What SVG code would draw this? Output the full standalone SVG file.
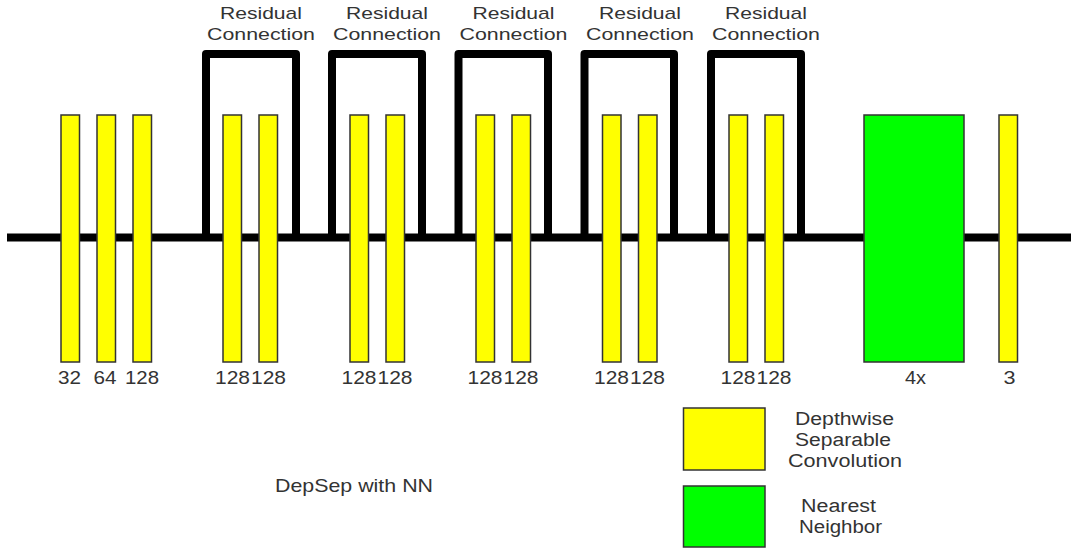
<svg xmlns="http://www.w3.org/2000/svg" width="1073" height="549" viewBox="0 0 1073 549">
<style>
.bar{fill:#ffff00;stroke:#333;stroke-width:1.5}
.nn{fill:#00ff00;stroke:#333;stroke-width:1.5}
.wire{fill:none;stroke:#000;stroke-width:8;stroke-linejoin:round}
text{font-family:"Liberation Sans",Arial,sans-serif;fill:#333;text-anchor:middle}
.lbl{font-size:19px}
.res{font-size:17px}
.leg{font-size:18px}
</style>
<rect width="1073" height="549" fill="#fff"/>
<g id="connectors">
<line class="wire" x1="7" y1="237.5" x2="1071" y2="237.5"/>
<path class="wire" d="M206 237.5V54H296V237.5"/>
<path class="wire" d="M332 237.5V54H422V237.5"/>
<path class="wire" d="M458.5 237.5V54H548V237.5"/>
<path class="wire" d="M584.5 237.5V54H674V237.5"/>
<path class="wire" d="M711 237.5V54H801V237.5"/>
</g>
<g id="res-labels">
<text class="res" x="261" y="19" textLength="82" lengthAdjust="spacingAndGlyphs">Residual</text>
<text class="res" x="261" y="40" textLength="108" lengthAdjust="spacingAndGlyphs">Connection</text>
<text class="res" x="387" y="19" textLength="82" lengthAdjust="spacingAndGlyphs">Residual</text>
<text class="res" x="387" y="40" textLength="108" lengthAdjust="spacingAndGlyphs">Connection</text>
<text class="res" x="513.5" y="19" textLength="82" lengthAdjust="spacingAndGlyphs">Residual</text>
<text class="res" x="513.5" y="40" textLength="108" lengthAdjust="spacingAndGlyphs">Connection</text>
<text class="res" x="640" y="19" textLength="82" lengthAdjust="spacingAndGlyphs">Residual</text>
<text class="res" x="640" y="40" textLength="108" lengthAdjust="spacingAndGlyphs">Connection</text>
<text class="res" x="766" y="19" textLength="82" lengthAdjust="spacingAndGlyphs">Residual</text>
<text class="res" x="766" y="40" textLength="108" lengthAdjust="spacingAndGlyphs">Connection</text>
</g>
<g id="conv1"><rect class="bar" x="61" y="115" width="18.5" height="247"/><text class="lbl" x="69.5" y="384" textLength="23" lengthAdjust="spacingAndGlyphs">32</text></g>
<g id="conv2"><rect class="bar" x="97" y="115" width="18.5" height="247"/><text class="lbl" x="105" y="384" textLength="23" lengthAdjust="spacingAndGlyphs">64</text></g>
<g id="conv3"><rect class="bar" x="133" y="115" width="18.5" height="247"/><text class="lbl" x="142" y="384" textLength="34" lengthAdjust="spacingAndGlyphs">128</text></g>
<g id="res1a"><rect class="bar" x="223" y="115" width="18.5" height="247"/><text class="lbl" x="232.5" y="384" textLength="35" lengthAdjust="spacingAndGlyphs">128</text></g>
<g id="res1b"><rect class="bar" x="259" y="115" width="18.5" height="247"/><text class="lbl" x="268.5" y="384" textLength="35" lengthAdjust="spacingAndGlyphs">128</text></g>
<g id="res2a"><rect class="bar" x="350" y="115" width="18.5" height="247"/><text class="lbl" x="359" y="384" textLength="35" lengthAdjust="spacingAndGlyphs">128</text></g>
<g id="res2b"><rect class="bar" x="386" y="115" width="18.5" height="247"/><text class="lbl" x="395" y="384" textLength="35" lengthAdjust="spacingAndGlyphs">128</text></g>
<g id="res3a"><rect class="bar" x="476" y="115" width="18.5" height="247"/><text class="lbl" x="485" y="384" textLength="35" lengthAdjust="spacingAndGlyphs">128</text></g>
<g id="res3b"><rect class="bar" x="512" y="115" width="18.5" height="247"/><text class="lbl" x="521" y="384" textLength="35" lengthAdjust="spacingAndGlyphs">128</text></g>
<g id="res4a"><rect class="bar" x="602.5" y="115" width="18.5" height="247"/><text class="lbl" x="611.5" y="384" textLength="35" lengthAdjust="spacingAndGlyphs">128</text></g>
<g id="res4b"><rect class="bar" x="638.5" y="115" width="18.5" height="247"/><text class="lbl" x="647.5" y="384" textLength="35" lengthAdjust="spacingAndGlyphs">128</text></g>
<g id="res5a"><rect class="bar" x="729" y="115" width="18.5" height="247"/><text class="lbl" x="738" y="384" textLength="35" lengthAdjust="spacingAndGlyphs">128</text></g>
<g id="res5b"><rect class="bar" x="765" y="115" width="18.5" height="247"/><text class="lbl" x="774" y="384" textLength="35" lengthAdjust="spacingAndGlyphs">128</text></g>
<g id="upsample"><rect class="nn" x="864" y="115" width="100" height="247"/><text class="lbl" x="915.5" y="384" textLength="21" lengthAdjust="spacingAndGlyphs">4x</text></g>
<g id="conv-out"><rect class="bar" x="999" y="115" width="18.5" height="247"/><text class="lbl" x="1009.5" y="384" textLength="12" lengthAdjust="spacingAndGlyphs">3</text></g>
<g id="legend-dsc"><rect class="bar" x="683.5" y="408" width="81.5" height="62"/>
<text class="leg" x="844.5" y="425" textLength="99" lengthAdjust="spacingAndGlyphs">Depthwise</text>
<text class="leg" x="843" y="446" textLength="96" lengthAdjust="spacingAndGlyphs">Separable</text>
<text class="leg" x="845" y="467" textLength="114" lengthAdjust="spacingAndGlyphs">Convolution</text></g>
<g id="legend-nn"><rect class="nn" x="683.5" y="486" width="81.5" height="61"/>
<text class="leg" x="838.5" y="512" textLength="75" lengthAdjust="spacingAndGlyphs">Nearest</text>
<text class="leg" x="840.5" y="533" textLength="83" lengthAdjust="spacingAndGlyphs">Neighbor</text></g>
<g id="title"><text class="lbl" x="354" y="492" textLength="158" lengthAdjust="spacingAndGlyphs">DepSep with NN</text></g>
</svg>
